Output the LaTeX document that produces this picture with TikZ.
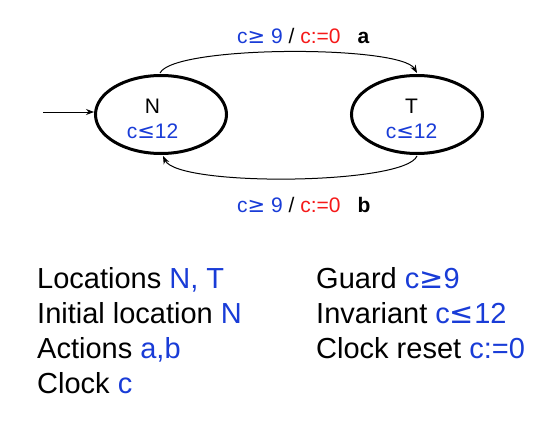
\documentclass[tikz,border=0pt]{standalone}
\usepackage{fontspec}
\setmainfont{Liberation Sans}
\newfontfamily\symf{DejaVu Sans}
\usetikzlibrary{arrows.meta,shapes.geometric}
\definecolor{tblue}{RGB}{25,60,215}
\definecolor{tred}{RGB}{245,25,25}
\newcommand{\mygeq}{{\symf ≥}}
\newcommand{\myleq}{{\symf ≤}}
\begin{document}
\begin{tikzpicture}[x=1pt,y=-1pt,
  loc/.style={draw,ellipse,line width=3pt,minimum width=131pt,minimum height=78pt,inner sep=0pt},
  trans/.style={-{Stealth[length=8pt,width=6pt]},line width=1pt},
  elab/.style={font=\fontsize{21}{24}\selectfont,inner sep=0pt,anchor=base west},
  ntxt/.style={font=\fontsize{21}{24}\selectfont,inner sep=0pt,anchor=base},
  info/.style={font=\fontsize{29}{34}\selectfont,inner sep=0pt,anchor=base west}]
\useasboundingbox (0,0) rectangle (558,423);
\node[loc] (N) at (161,114.5) {};
\node[loc] (T) at (417,114.5) {};
\node[ntxt] (Nn) at (152.5,113) {N};
\node[ntxt,text=tblue] (Ni) at (152.5,138) {c\myleq12};
\node[ntxt] (Tn) at (411.5,113) {T};
\node[ntxt,text=tblue] (Ti) at (411.5,138) {c\myleq12};
\coordinate (init) at (43,112);
\draw[trans] (init) -- (N.west |- init);
\draw[trans] ([xshift=-1pt,yshift=1pt]N.north) .. controls +(14,-28) and +(-16,-28) .. ([yshift=1pt]T.north);
\draw[trans] ([yshift=-1pt]T.south) .. controls +(-12,29) and +(15,31) .. ([xshift=2pt,yshift=-1pt]N.south);
\node[elab] (la) at (237,43) {\textcolor{tblue}{c\mygeq\ 9} / \textcolor{tred}{c:=0}\hspace{17pt}\textbf{a}};
\node[elab] (lb) at (237,212) {\textcolor{tblue}{c\mygeq\ 9} / \textcolor{tred}{c:=0}\hspace{17pt}\textbf{b}};
\node[info] (i1) at (37,288) {Locations \textcolor{tblue}{N, T}};
\node[info] (i2) at (37,323) {Initial location \textcolor{tblue}{N}};
\node[info] (i3) at (37,358) {Actions \textcolor{tblue}{a,b}};
\node[info] (i4) at (37,393) {Clock \textcolor{tblue}{c}};
\node[info] (i5) at (316,288) {Guard \textcolor{tblue}{c\mygeq9}};
\node[info] (i6) at (316,323) {Invariant \textcolor{tblue}{c\myleq12}};
\node[info] (i7) at (316,358) {Clock reset \textcolor{tblue}{c:=0}};
\end{tikzpicture}
\end{document}
